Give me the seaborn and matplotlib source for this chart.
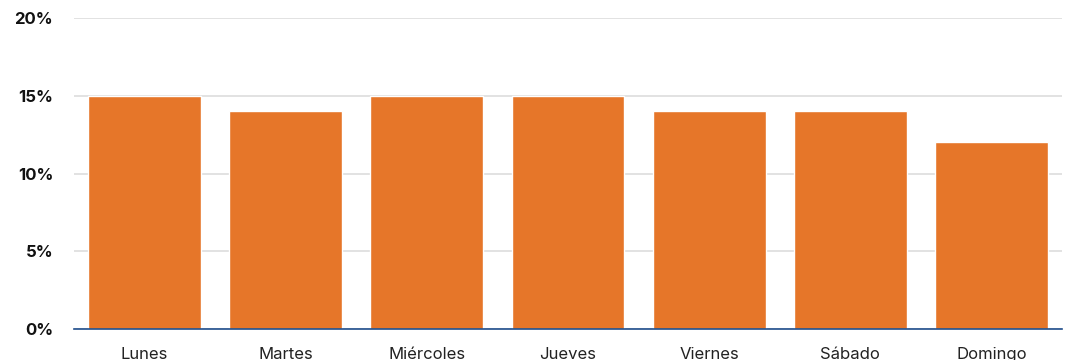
import matplotlib
matplotlib.use("Agg")
import matplotlib.pyplot as plt
import seaborn as sns
import pandas as pd

days = ["Lunes", "Martes", "Miércoles", "Jueves", "Viernes", "Sábado", "Domingo"]
values = [15, 14, 15, 15, 14, 14, 12]
yticks = [0, 5, 10, 15, 20]
ytick_labels = ["0%", "5%", "10%", "15%", "20%"]

sns.set_theme(style="white")
plt.rcParams['font.family'] = ['Inter', 'DejaVu Sans']

df = pd.DataFrame({"day": days, "value": values})

fig = plt.figure(figsize=(10.68, 3.6), dpi=100)
ax = fig.add_axes([74/1068, 1-329/360, (1062-74)/1068, (329-18)/360])

sns.barplot(data=df, x="day", y="value", color="#E67629", saturation=1, width=0.8, ax=ax, zorder=3)

ax.set_ylim(0, 20)
ax.set_xlim(-0.5, 6.5)
ax.set_yticks(yticks)
ax.set_yticklabels(ytick_labels, fontsize=12, fontweight="bold", color="#111111")
ax.yaxis.grid(True, color="#DDDDDD", linewidth=1.2, zorder=0)
ax.set_axisbelow(True)
ax.tick_params(axis="y", length=0, pad=15)
ax.tick_params(axis="x", length=0, pad=13, labelsize=12, labelcolor="#222222")
ax.set_xlabel("")
ax.set_ylabel("")
for s in ["top", "right", "left"]:
    ax.spines[s].set_visible(False)
ax.spines["bottom"].set_color("#1F4E8C")
ax.spines["bottom"].set_linewidth(1.2)
ax.spines["bottom"].set_zorder(4)

fig.savefig("out.png", dpi=100)
